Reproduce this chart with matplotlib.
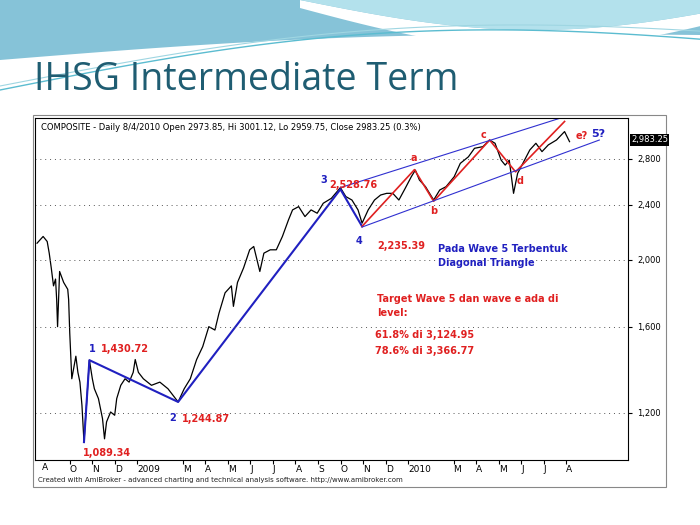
import matplotlib
matplotlib.use("Agg")
import matplotlib.pyplot as plt
import numpy as np
from matplotlib.ticker import FixedLocator, NullLocator
from matplotlib.patches import Polygon, Rectangle

# month index: 0 = Aug 2008
months = [0.55,0.82,1.0,1.09,1.18,1.28,1.37,1.42,1.46,1.55,1.73,1.91,1.95,2.0,2.09,2.27,2.36,2.45,2.54,2.63,
          2.72,2.87,3.0,3.09,3.27,3.45,3.54,3.63,3.81,3.99,4.08,4.26,4.45,4.63,4.81,4.9,5.04,5.26,5.62,5.99,
          6.35,6.8,7.07,7.34,7.62,7.89,8.16,8.43,8.61,8.88,9.16,9.25,9.43,9.7,9.97,10.15,10.42,10.6,10.88,11.15,
          11.42,11.69,11.87,12.14,12.42,12.69,12.96,13.23,13.59,13.99,14.23,14.5,14.77,14.95,15.22,15.5,15.77,16.04,16.31,16.58,
          16.86,17.13,17.31,17.49,17.76,18.12,18.39,18.67,19.03,19.3,19.66,19.93,20.3,20.6,20.84,21.11,21.29,21.47,21.66,21.84,
          22.11,22.38,22.65,22.92,23.2,23.56,23.92,24.14]
prices = [2113,2161,2125,2044,1946,1833,1875,1751,1600,1923,1854,1812,1751,1565,1345,1450,1374,1330,1231,1089,
          1204,1431,1345,1301,1259,1178,1101,1165,1204,1191,1259,1316,1345,1330,1374,1434,1374,1345,1316,1330,
          1301,1245,1301,1345,1434,1497,1600,1582,1673,1791,1833,1712,1854,1946,2067,2090,1923,2044,2067,2067,
          2161,2284,2361,2387,2309,2361,2335,2414,2454,2543,2468,2440,2361,2259,2361,2440,2481,2495,2495,2440,
          2537,2637,2696,2608,2551,2440,2523,2551,2637,2757,2818,2899,2915,2980,2948,2787,2741,2787,2495,2667,
          2772,2883,2948,2867,2932,2980,3065,2964]

wave_m = [2.63, 2.87, 6.8, 13.99, 14.95]
wave_p = [1089, 1431, 1245, 2529, 2235]
sub_m = [14.95, 17.27, 18.12, 20.6, 21.75, 23.92]
sub_p = [2235, 2700, 2430, 2980, 2680, 3170]
up_m, up_p = [13.99, 24.18], [2543, 3240]
lo_m, lo_p = [14.95, 25.46], [2230, 2980]

tick_months = [2,3,4,5,7,8,9,10,11,12,13,14,15,16,17,19,20,21,22,23,24]
tick_labels = ["O","N","D","2009","M","A","M","J","J","A","S","O","N","D","2010","M","A","M","J","J","A"]
yticks = [1200,1600,2000,2400,2800]

fig = plt.figure(figsize=(7,5.25), dpi=100)
fig.patch.set_facecolor("white")
# decorative swoosh
bg = fig.add_axes([0,0,1,1]); bg.set_xlim(0,700); bg.set_ylim(525,0); bg.axis("off")
xs = np.linspace(0,700,80)
lower = 60 - 25*(xs/700) - 10*np.sin(xs/700*np.pi)
bg.add_patch(Polygon(np.vstack([np.c_[xs, 0*xs], np.c_[xs[::-1], lower[::-1]]]), color="#86c3d8", lw=0))
cx = np.linspace(300,700,60)
arc_lo = 8 + 40*np.sin((cx-300)/400*np.pi*0.85)
arc_hi = 0 + 30*np.sin((cx-300)/400*np.pi*0.85)
bg.add_patch(Polygon(np.vstack([np.c_[cx, arc_hi], np.c_[cx[::-1], arc_lo[::-1]]]), color="white", lw=0))
bg.add_patch(Polygon(np.vstack([np.c_[cx, 0*cx], np.c_[cx[::-1], arc_hi[::-1]]]), color="#b3e1ec", lw=0))
bg.plot(xs, 90 - 40*(xs/700) - 35*np.sin(xs/700*np.pi*0.9), color="#5bbcd0", lw=1.0)
bg.plot(xs, 86 - 45*(xs/700) - 32*np.sin(xs/700*np.pi*0.9), color="#9fd6e2", lw=0.8)
bg.text(34, 80, "IHSG Intermediate Term", fontsize=27, color="#1f5d72", va="center", ha="left", family="Open Sans")
bg.add_patch(Rectangle((33,115), 633, 372, fill=False, ec="#888888", lw=0.8))
bg.text(38, 480, "Created with AmiBroker - advanced charting and technical analysis software. http://www.amibroker.com",
        fontsize=5, va="center", color="#222222")

ax = fig.add_axes([35/700, 1-460/525, (628-35)/700, (460-118)/525])
ax.set_yscale("log")
ax.plot(months, prices, color="black", lw=0.9)
ax.plot(wave_m, wave_p, color="#2020c0", lw=1.5)
ax.plot(sub_m, sub_p, color="#e02020", lw=1.2)
ax.plot(up_m, up_p, color="#3030d0", lw=0.8)
ax.plot(lo_m, lo_p, color="#3030d0", lw=0.8)
ax.set_xlim(0.46, 26.73)
ax.set_ylim(1026, 3207)
ax.yaxis.tick_right()
ax.yaxis.set_major_locator(FixedLocator(yticks))
ax.yaxis.set_minor_locator(NullLocator())
ax.set_yticklabels([f"{v:,}" for v in yticks], fontsize=6)
ax.set_xticks(tick_months)
ax.set_xticklabels(tick_labels, fontsize=6.5, ha="left")
ax.tick_params(axis="x", length=3, pad=0.5)
ax.tick_params(axis="y", length=3)
for v in yticks:
    ax.axhline(v, color="#555555", ls=(0,(1,4)), lw=0.7)
ax.text(0.012, -0.008, "A", fontsize=6.5, va="top", transform=ax.transAxes)
ax.text(0.01, 0.985, "COMPOSITE - Daily 8/4/2010 Open 2973.85, Hi 3001.12, Lo 2959.75, Close 2983.25 (0.3%)",
        transform=ax.transAxes, fontsize=6, va="top")
ax.text(1.005, 2983, "2,983.25", transform=ax.get_yaxis_transform(), fontsize=6, color="white", va="center",
        bbox=dict(fc="black", ec="none", pad=1))
blue, red = "#2020c0", "#e02020"
lab = dict(fontsize=7, fontweight="bold")
ax.text(2.85, 1470, "1", color=blue, **lab)
ax.text(3.4, 1470, "1,430.72", color=red, **lab)
ax.text(6.4, 1170, "2", color=blue, **lab)
ax.text(6.95, 1165, "1,244.87", color=red, **lab)
ax.text(2.6, 1040, "1,089.34", color=red, **lab)
ax.text(13.1, 2580, "3", color=blue, **lab)
ax.text(13.5, 2540, "2,528.76", color=red, **lab)
ax.text(14.65, 2110, "4", color=blue, **lab)
ax.text(15.6, 2070, "2,235.39", color=red, **lab)
ax.text(17.1, 2780, "a", color=red, **lab)
ax.text(17.95, 2330, "b", color=red, **lab)
ax.text(20.2, 3000, "c", color=red, **lab)
ax.text(21.8, 2570, "d", color=red, **lab)
ax.text(24.4, 2990, "e?", color=red, **lab)
ax.text(25.1, 3010, "5?", color=blue, fontsize=8, fontweight="bold")
ax.text(18.3, 1960, "Pada Wave 5 Terbentuk\nDiagonal Triangle", color=blue, fontsize=7, fontweight="bold", linespacing=1.5)
ax.text(15.6, 1660, "Target Wave 5 dan wave e ada di\nlevel:", color=red, fontsize=7, fontweight="bold", linespacing=1.4)
ax.text(15.5, 1460, "61.8% di 3,124.95\n78.6% di 3,366.77", color=red, fontsize=7, fontweight="bold", linespacing=1.8)
fig.savefig("out.png", dpi=100, facecolor="white")
